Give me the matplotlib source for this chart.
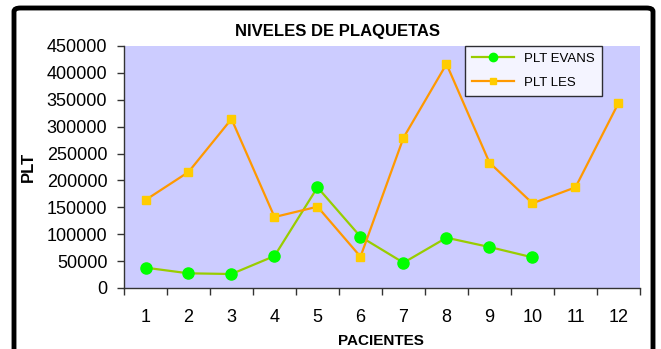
import matplotlib.pyplot as plt
from matplotlib.patches import FancyBboxPatch

plt.rcParams['font.family'] = ['Liberation Sans', 'DejaVu Sans']

# data
pacientes = [1, 2, 3, 4, 5, 6, 7, 8, 9, 10, 11, 12]
plt_evans = [37800, 27300, 26000, 59500, 187200, 95400, 47000, 93500, 76200, 57000]
plt_les = [163600, 215700, 314300, 132000, 151200, 58200, 279500, 416500, 233000, 157500, 187200, 344000]
yticks = [0, 50000, 100000, 150000, 200000, 250000, 300000, 350000, 400000, 450000]

fig = plt.figure(figsize=(6.61, 3.49), dpi=100)
ax = fig.add_axes([124/661, 1-288/349, 516/661, 242/349])
ax.set_facecolor('#CCCCFF')

ax.plot(pacientes[:len(plt_evans)], plt_evans, color='#99CC00', lw=1.6,
        marker='o', markersize=8, markerfacecolor='#00FF00', markeredgecolor='#00FF00',
        label='PLT EVANS')
ax.plot(pacientes, plt_les, color='#FF9900', lw=1.6,
        marker='s', markersize=6, markerfacecolor='#FFCC00', markeredgecolor='#FFCC00',
        label='PLT LES')

ax.set_xlim(0.5, 12.5)
ax.set_ylim(0, 450000)
ax.set_yticks(yticks)
ax.set_yticklabels([str(v) for v in yticks])
ax.set_xticks([p - 0.5 for p in pacientes] + [12.5])
ax.set_xticklabels([])
ax.set_xticks(pacientes, minor=True)
ax.set_xticklabels([str(p) for p in pacientes], minor=True)
ax.tick_params(axis='x', which='major', length=5, width=1, color='#333333')
ax.tick_params(axis='x', which='minor', length=0, pad=15, labelsize=13)
ax.tick_params(axis='y', length=5, width=1, color='#333333', pad=7, labelsize=13)

for s in ['top', 'right']:
    ax.spines[s].set_visible(False)
for s in ['left', 'bottom']:
    ax.spines[s].set_color('#333333')
    ax.spines[s].set_linewidth(1)

leg = ax.legend(loc='upper left', bbox_to_anchor=(0.661, 1.0), borderaxespad=0,
                fontsize=9.5, frameon=True, fancybox=False, edgecolor='black',
                handlelength=3.2, labelspacing=0.9, borderpad=0.5, markerscale=0.75)
leg.get_frame().set_linewidth(1)
leg.get_frame().set_facecolor('white')

fig.text(0.51, 1-36/349, 'NIVELES DE PLAQUETAS', ha='center', va='baseline',
         fontsize=12, fontweight='bold')
fig.text(381/661, 1-345/349, 'PACIENTES', ha='center', va='baseline',
         fontsize=11, fontweight='bold')
fig.text(28/661, 1-167/349, 'PLT', ha='center', va='center', rotation=90,
         fontsize=12, fontweight='bold')

# chart frame
frame = FancyBboxPatch((14/661, -0.2), 639/661, 1.2 - 8/349,
                       boxstyle='round,pad=0,rounding_size=0.01',
                       transform=fig.transFigure, fill=False, lw=3.5,
                       edgecolor='black')
fig.patches.append(frame)

fig.savefig('out.png', dpi=100)
